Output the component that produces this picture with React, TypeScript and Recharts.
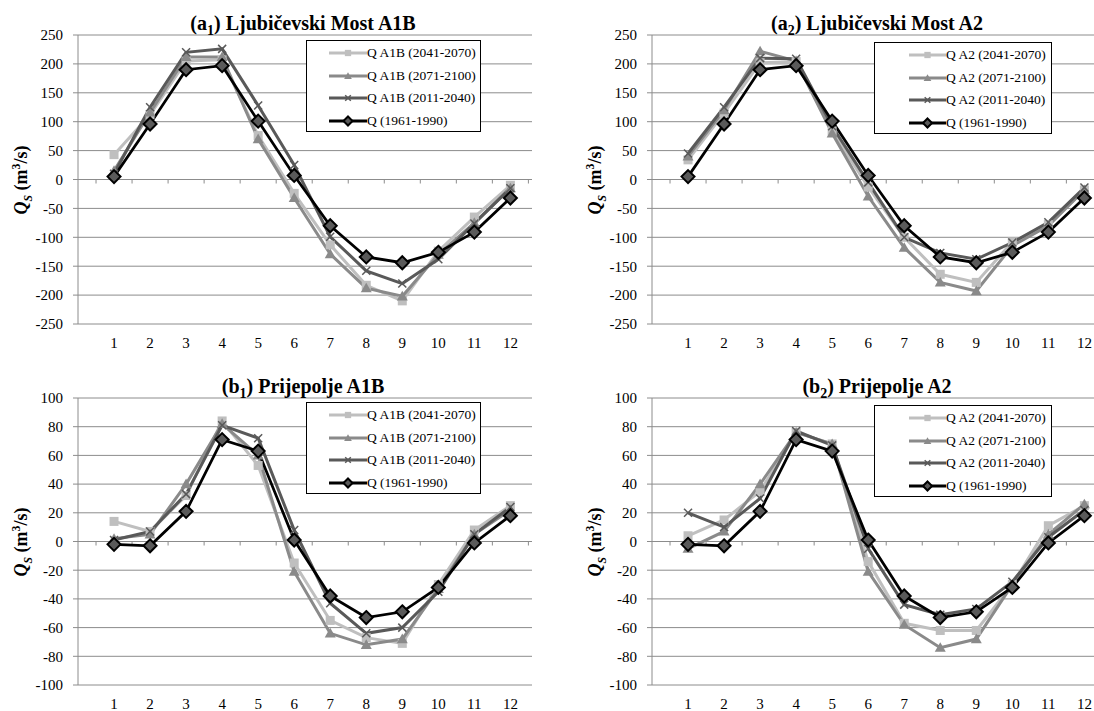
import React from 'react'
import { LineChart, Line, XAxis, YAxis, CartesianGrid, ReferenceLine } from 'recharts'

const months = [1, 2, 3, 4, 5, 6, 7, 8, 9, 10, 11, 12]
const monthEdges = [0.5, 1.5, 2.5, 3.5, 4.5, 5.5, 6.5, 7.5, 8.5, 9.5, 10.5, 11.5, 12.5]
const xDomain: [number, number] = [0, 12.6]

const ljTicks = [-250, -200, -150, -100, -50, 0, 50, 100, 150, 200, 250]
const prTicks = [-100, -80, -60, -40, -20, 0, 20, 40, 60, 80, 100]

// Ljubičevski Most
const ljBase = [5, 96, 190, 197, 101, 7, -80, -134, -144, -126, -91, -32]
const ljA1B_2041 = [43, 112, 205, 207, 76, -24, -113, -183, -210, -124, -65, -10]
const ljA1B_2071 = [15, 116, 212, 212, 70, -32, -129, -188, -202, -130, -75, -15]
const ljA1B_2011 = [10, 125, 220, 226, 128, 25, -99, -158, -180, -138, -76, -15]
const ljA2_2041 = [34, 115, 202, 204, 84, -13, -100, -164, -178, -108, -78, -18]
const ljA2_2071 = [40, 120, 222, 205, 80, -29, -118, -178, -193, -115, -80, -18]
const ljA2_2011 = [45, 125, 210, 209, 92, -5, -100, -127, -138, -109, -74, -14]

// Prijepolje
const prBase = [-2, -3, 21, 71, 63, 1, -38, -53, -49, -32, -1, 18]
const prA1B_2041 = [14, 7, 32, 84, 53, -15, -55, -67, -71, -30, 8, 25]
const prA1B_2071 = [2, 5, 40, 82, 60, -21, -64, -72, -68, -33, 5, 22]
const prA1B_2011 = [1, 7, 33, 81, 72, 8, -43, -64, -60, -35, 5, 24]
const prA2_2041 = [4, 15, 35, 76, 68, -14, -57, -62, -62, -30, 11, 25]
const prA2_2071 = [-5, 7, 40, 76, 68, -21, -58, -74, -68, -30, 5, 26]
const prA2_2011 = [20, 10, 30, 77, 67, -5, -44, -51, -47, -28, 3, 22]

const labelsA1B = ['Q A1B (2041-2070)', 'Q A1B (2071-2100)', 'Q A1B (2011-2040)', 'Q (1961-1990)']
const labelsA2 = ['Q A2 (2041-2070)', 'Q A2 (2071-2100)', 'Q A2 (2011-2040)', 'Q (1961-1990)']

const GRID = '#8c8c8c'
const FONT = '"Liberation Serif", "Times New Roman", serif'

const series = [
  { key: 's1', color: '#bfbfbf', marker: 'square', width: 3 },
  { key: 's2', color: '#8a8a8a', marker: 'triangle', width: 3 },
  { key: 's3', color: '#595959', marker: 'cross', width: 3 },
  { key: 'base', color: '#000000', marker: 'diamond', width: 2.75 },
]

function makeRows(s1: number[], s2: number[], s3: number[], base: number[]) {
  return months.map((m, i) => ({ m, s1: s1[i], s2: s2[i], s3: s3[i], base: base[i] }))
}

function Marker({ kind, cx, cy, color, scale = 1 }: any) {
  if (cx == null || cy == null) return null
  if (kind === 'square') {
    const h = 4.5 * scale
    return <rect x={cx - h} y={cy - h} width={2 * h} height={2 * h} fill={color} />
  }
  if (kind === 'triangle') {
    const r = 5.5 * scale
    return <polygon points={`${cx},${cy - r} ${cx + r},${cy + r * 0.75} ${cx - r},${cy + r * 0.75}`} fill={color} />
  }
  if (kind === 'cross') {
    const r = 4 * scale
    return (
      <g stroke={color} strokeWidth={1.5}>
        <line x1={cx - r} y1={cy - r} x2={cx + r} y2={cy + r} />
        <line x1={cx - r} y1={cy + r} x2={cx + r} y2={cy - r} />
      </g>
    )
  }
  const r = 6.5 * scale
  return (
    <polygon
      points={`${cx},${cy - r} ${cx + r},${cy} ${cx},${cy + r} ${cx - r},${cy}`}
      fill="#5a5a5a"
      stroke="#000"
      strokeWidth={2}
    />
  )
}

// horizontal axis crossing at zero, with tick marks between months
const ZeroAxis = (props: any) => {
  const { x1, x2, y1 } = props
  const toPx = (v: number) => x1 + ((v - xDomain[0]) / (xDomain[1] - xDomain[0])) * (x2 - x1)
  return (
    <g>
      <line x1={x1} y1={y1} x2={x2} y2={y1} stroke={GRID} strokeWidth={1} />
      {monthEdges.map((v) => (
        <line key={v} x1={toPx(v)} x2={toPx(v)} y1={y1} y2={y1 + 4} stroke={GRID} strokeWidth={1} />
      ))}
    </g>
  )
}

type Box = { left: number; top: number; width: number; height: number; lineLeft: number; textLeft: number }

type PanelProps = {
  left: number
  top: number
  plotHeight: number
  letter: string
  sub: string
  name: string
  rows: any[]
  yTicks: number[]
  labels: string[]
  legend: Box
}

function Panel({ left, top, plotHeight, letter, sub, name, rows, yTicks, labels, legend }: PanelProps) {
  const yDomain: [number, number] = [yTicks[0], yTicks[yTicks.length - 1]]
  const plotTop = 35
  const axisX = 78
  return (
    <div style={{ position: 'absolute', left, top, width: 547, height: plotTop + plotHeight + 36 }}>
      <LineChart
        width={547}
        height={plotTop + plotHeight + 36}
        data={rows}
        margin={{ top: plotTop, right: 15, left: 0, bottom: 0 }}
      >
        <CartesianGrid vertical={false} stroke={GRID} strokeWidth={1} />
        <XAxis
          dataKey="m"
          type="number"
          domain={xDomain}
          ticks={months}
          interval={0}
          axisLine={false}
          tickLine={false}
          tickSize={6}
          tickMargin={7}
          height={36}
          allowDataOverflow
          tick={{ fill: '#000', fontSize: 15, fontFamily: FONT }}
        />
        <YAxis
          type="number"
          domain={yDomain}
          ticks={yTicks}
          interval={0}
          width={axisX}
          axisLine={{ stroke: GRID }}
          tickLine={{ stroke: GRID }}
          tickSize={5}
          tickMargin={10}
          allowDataOverflow
          tick={{ fill: '#000', fontSize: 15, fontFamily: FONT }}
        />
        <ReferenceLine y={0} shape={ZeroAxis} />
        {series.map((s) => (
          <Line
            key={s.key}
            dataKey={s.key}
            stroke={s.color}
            strokeWidth={s.width}
            isAnimationActive={false}
            dot={(p: any) => <Marker key={`${s.key}-${p.index}`} kind={s.marker} cx={p.cx} cy={p.cy} color={s.color} />}
            activeDot={false}
          />
        ))}
      </LineChart>

      <div
        style={{
          position: 'absolute',
          left: axisX + 225 - 200,
          top: 12,
          width: 400,
          textAlign: 'center',
          fontFamily: FONT,
          fontWeight: 'bold',
          fontSize: 20,
          lineHeight: '22px',
          whiteSpace: 'nowrap',
        }}
      >
        ({letter}
        <sub style={{ fontSize: '0.7em', lineHeight: 0 }}>{sub}</sub>) {name}
      </div>

      <div
        style={{
          position: 'absolute',
          left: 21 - 70,
          top: plotTop + plotHeight / 2 - 11,
          width: 140,
          height: 22,
          lineHeight: '22px',
          textAlign: 'center',
          transform: 'rotate(-90deg)',
          fontFamily: FONT,
          fontWeight: 'bold',
          fontSize: 18,
          whiteSpace: 'nowrap',
        }}
      >
        <i>Q</i>
        <sub style={{ fontSize: '0.65em', lineHeight: 0, fontStyle: 'italic' }}>S</sub> (m
        <sup style={{ fontSize: '0.65em', lineHeight: 0 }}>3</sup>/s)
      </div>

      <div
        style={{
          position: 'absolute',
          left: legend.left,
          top: legend.top,
          width: legend.width,
          height: legend.height,
          border: '1px solid #000',
          boxSizing: 'border-box',
          background: '#fff',
          fontFamily: FONT,
          fontSize: 13.5,
        }}
      >
        {series.map((s, i) => (
          <div
            key={s.key}
            style={{
              position: 'absolute',
              left: 0,
              top: 1 + i * 22.7,
              height: 22,
              width: '100%',
            }}
          >
            <svg
              width={legend.textLeft - legend.lineLeft}
              height={22}
              style={{ position: 'absolute', left: legend.lineLeft, top: 0 }}
            >
              <line x1={0} x2={legend.textLeft - legend.lineLeft} y1={11} y2={11} stroke={s.color} strokeWidth={3} />
              <Marker kind={s.marker} cx={(legend.textLeft - legend.lineLeft) / 2} cy={11} color={s.color} scale={0.7} />
            </svg>
            <span style={{ position: 'absolute', left: legend.textLeft, top: 0, lineHeight: '22px', whiteSpace: 'nowrap' }}>
              {labels[i]}
            </span>
          </div>
        ))}
      </div>
    </div>
  )
}

export default function App() {
  return (
    <div
      style={{
        position: 'fixed',
        left: 0,
        top: 0,
        width: 1094,
        height: 711,
        overflow: 'hidden',
        background: '#fff',
      }}
    >
      <Panel
        left={0}
        top={0}
        plotHeight={289}
        letter="a"
        sub="1"
        name="Ljubičevski Most A1B"
        rows={makeRows(ljA1B_2041, ljA1B_2071, ljA1B_2011, ljBase)}
        yTicks={ljTicks}
        labels={labelsA1B}
        legend={{ left: 306, top: 40, width: 175, height: 92, lineLeft: 22, textLeft: 60 }}
      />
      <Panel
        left={574}
        top={0}
        plotHeight={289}
        letter="a"
        sub="2"
        name="Ljubičevski Most A2"
        rows={makeRows(ljA2_2041, ljA2_2071, ljA2_2011, ljBase)}
        yTicks={ljTicks}
        labels={labelsA2}
        legend={{ left: 300, top: 42, width: 178, height: 92, lineLeft: 34, textLeft: 71 }}
      />
      <Panel
        left={0}
        top={363}
        plotHeight={287}
        letter="b"
        sub="1"
        name="Prijepolje A1B"
        rows={makeRows(prA1B_2041, prA1B_2071, prA1B_2011, prBase)}
        yTicks={prTicks}
        labels={labelsA1B}
        legend={{ left: 306, top: 39, width: 175, height: 92, lineLeft: 22, textLeft: 60 }}
      />
      <Panel
        left={574}
        top={363}
        plotHeight={287}
        letter="b"
        sub="2"
        name="Prijepolje A2"
        rows={makeRows(prA2_2041, prA2_2071, prA2_2011, prBase)}
        yTicks={prTicks}
        labels={labelsA2}
        legend={{ left: 300, top: 42, width: 178, height: 92, lineLeft: 34, textLeft: 71 }}
      />
    </div>
  )
}
